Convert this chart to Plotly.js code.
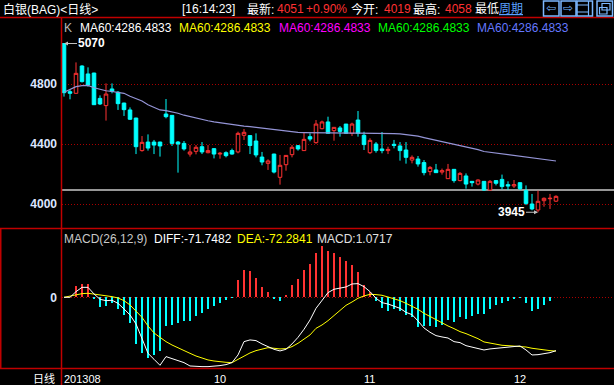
<!DOCTYPE html>
<html><head><meta charset="utf-8">
<script src="https://cdn.plot.ly/plotly-3.0.1.min.js"></script>
<style>html,body{margin:0;padding:0;background:#000;overflow:hidden}#chart{width:614px;height:385px}</style>
</head><body><div id="chart"></div>
<script>
// ---------------- data ----------------
const candleIdx = [0,1,2,3,4,5,6,7,8,9,10,11,12,13,14,15,16,17,18,19,20,21,22,23,24,25,26,27,28,29,30,31,32,33,34,35,36,37,38,39,40,41,42,43,44,45,46,47,48,49,50,51,52,53,54,55,56,57,58,59,60,61,62,63,64,65,66,67,68,69,70,71,72,73,74,75,76,77,78,79,80,81,82];
const openP  = [5070,4749,4738,4920,4867,4873,4704,4656,4767,4745,4673,4627,4573,4356,4413,4413,4413,4600,4591,4413,4404,4333,4351,4382,4342,4369,4333,4342,4356,4347,4458,4456,4420,4313,4271,4333,4178,4262,4329,4389,4356,4449,4409,4502,4547,4489,4507,4533,4471,4560,4458,4342,4400,4367,4356,4398,4387,4360,4293,4300,4276,4216,4227,4213,4169,4231,4156,4187,4151,4133,4151,4093,4156,4164,4129,4120,4142,4089,4000,3960,4022,4035,4019];
const highP  = [5070,4760,4944,4925,4911,4875,4724,4804,4804,4753,4675,4644,4575,4453,4464,4427,4415,4700,4593,4420,4420,4393,4393,4413,4393,4371,4347,4351,4369,4482,4500,4458,4471,4347,4298,4335,4327,4324,4393,4393,4476,4471,4560,4556,4582,4511,4520,4533,4542,4620,4482,4438,4413,4480,4382,4427,4413,4413,4324,4320,4293,4253,4267,4236,4267,4233,4213,4204,4153,4164,4153,4160,4160,4196,4151,4160,4144,4124,4067,4089,4044,4067,4058];
const lowP   = [4716,4698,4735,4810,4782,4660,4660,4556,4738,4627,4587,4560,4333,4349,4356,4333,4316,4571,4387,4209,4356,4316,4331,4333,4338,4304,4302,4311,4329,4338,4427,4333,4311,4258,4227,4204,4129,4222,4311,4356,4356,4418,4402,4498,4471,4422,4449,4467,4453,4449,4360,4333,4342,4338,4333,4371,4289,4269,4271,4249,4191,4191,4209,4196,4169,4142,4151,4102,4116,4124,4089,4091,4124,4098,4093,4107,4093,3993,3958,3945,3982,3967,4014];
const closeP = [4742,4738,4871,4816,4793,4662,4667,4733,4751,4669,4629,4565,4382,4411,4373,4393,4387,4582,4404,4400,4367,4347,4378,4347,4356,4333,4338,4322,4333,4471,4478,4390,4327,4280,4287,4213,4258,4324,4378,4367,4431,4433,4533,4547,4471,4511,4484,4471,4533,4471,4396,4424,4356,4356,4364,4391,4356,4311,4311,4267,4209,4244,4209,4222,4231,4156,4204,4133,4142,4160,4093,4151,4138,4116,4120,4129,4102,4004,3967,4018,4038,4038,4051];
const ma60   = [4745,4762,4782,4789,4791,4775,4764,4755,4750,4744,4738,4718,4702,4687,4662,4642,4627,4622,4615,4605,4592,4582,4572,4562,4555,4548,4542,4535,4528,4522,4519,4516,4511,4504,4498,4494,4488,4483,4479,4477,4476,4475,4475,4474,4474,4474,4473,4473,4473,4473,4473,4473,4473,4473,4471,4469,4467,4463,4459,4452,4443,4434,4425,4415,4407,4398,4393,4383,4373,4362,4350,4345,4340,4335,4330,4326,4321,4316,4311,4304,4297,4291,4286.4833];
const diff   = [0,0,7.6,13.4,13.4,4.5,-2.7,-4.5,-4.0,-8.1,-15.7,-23.7,-35.8,-55.1,-75.3,-83.3,-91.4,-79.7,-82.4,-85.1,-87.8,-92.3,-93.2,-93.2,-93.2,-92.7,-91.8,-90.5,-87.8,-77.5,-59.6,-57.3,-58.2,-62.7,-66.3,-69.9,-72.1,-69.9,-62.7,-53.8,-43.0,-30.5,-14.8,-3.6,6.3,10.8,12.5,13.9,17.9,18.4,14.3,7.6,-1.3,-7.2,-9.0,-11.6,-14.8,-20.2,-23.3,-31.8,-41.2,-47.0,-51.5,-53.3,-54.7,-59.6,-60.9,-65.0,-66.8,-69.0,-70.8,-69.4,-68.5,-67.7,-67.2,-66.3,-65.4,-70.8,-77.5,-77.1,-76.2,-74.4,-71.7482];
const dea    = [0,1.8,3.6,4.9,5.4,4.5,3.1,2.2,0.9,-0.9,-4.5,-10.3,-17.9,-26.9,-38.5,-47.9,-53.8,-59.6,-64.1,-68.1,-71.7,-75.3,-78.9,-81.5,-84.2,-85.6,-86.9,-87.4,-87.8,-83.3,-78.9,-74.8,-71.7,-69.4,-67.7,-68.5,-69.4,-69.0,-66.3,-61.8,-56.5,-50.6,-41.7,-37.2,-31.4,-24.2,-17.5,-10.8,-6.3,-1.3,1.8,4.0,3.6,2.7,0.4,-1.8,-4.5,-8.1,-11.6,-16.1,-21.5,-26.0,-30.5,-34.9,-38.5,-42.1,-46.1,-48.8,-52.0,-55.6,-60.0,-61.8,-63.2,-64.5,-65.0,-65.4,-65.4,-66.8,-68.5,-69.9,-70.8,-71.7,-72.2841];
const macdHist = [0,0,15.2,17.9,17.9,-2.7,-12.5,-11.2,-8.1,-15.2,-23.7,-34.9,-63.2,-74.4,-82,-77.5,-71.7,-38.5,-37.6,-34,-31.8,-31.8,-25.1,-21.5,-16.1,-11.6,-8.1,-3.6,-1,23.3,36.7,35.4,26.4,13.4,7.2,-2.7,-4.5,3.1,17,24.6,36.7,44.8,59.1,69,62.7,60,54.7,49.3,43.5,34.1,16.6,7.6,-4.5,-13.9,-17.9,-16.1,-17.9,-23.7,-26.9,-40.3,-38.5,-38.5,-39.4,-37.2,-30.5,-32.7,-26.9,-28.7,-25.1,-22.4,-22.4,-15.2,-10.3,-7.2,-4.5,-1.8,-0.5,-8.1,-17.9,-15.2,-9.9,-4.5,1.0717];
const monthIdx    = [0, 25, 50, 75];
const monthLabels = ['201308', '10', '11', '12'];
const priceTicks  = [4000, 4400, 4800];
const refPrice    = 4093;
const highMark = {idx: 0, value: 5070};
const lowMark  = {idx: 79, value: 3945};
const quote = {time: '16:14:23', last: 4051, change: '+0.90%', open: 4019, high: 4058};

// ---------------- layout helpers ----------------
const W = 614, H = 385;
const PX = x => x / W, PY = y => 1 - y / H;
const FONT = 'Liberation Sans, Arial, "Noto Sans CJK SC", sans-serif';
const RED = '#ff3232', CYAN = '#00ffff', FRAME = '#c00000';
function label(text, x, y, color, extra) {
  return Object.assign({xref: 'paper', yref: 'paper', x: PX(x), y: PY(y), xanchor: 'left', yanchor: 'middle',
    showarrow: false, text: text, borderpad: 0, font: {family: FONT, size: 12, color: color}}, extra || {});
}
const last = candleIdx.length - 1;

const traces = [
  {type: 'scatter', mode: 'lines', x: candleIdx, y: ma60, xaxis: 'x', yaxis: 'y',
   line: {color: '#9494d6', width: 1.2}, hoverinfo: 'skip'},
  {type: 'candlestick', x: candleIdx, open: openP, high: highP, low: lowP, close: closeP,
   xaxis: 'x', yaxis: 'y', whiskerwidth: 0, hoverinfo: 'skip',
   increasing: {line: {color: RED, width: 1}, fillcolor: '#000000'},
   decreasing: {line: {color: CYAN, width: 1}, fillcolor: CYAN}},
  {type: 'bar', x: candleIdx, y: macdHist, xaxis: 'x', yaxis: 'y2', width: 0.17,
   marker: {color: macdHist.map(v => v >= 0 ? RED : CYAN), line: {width: 0}}, hoverinfo: 'skip'},
  {type: 'scatter', mode: 'lines', x: candleIdx, y: dea, xaxis: 'x', yaxis: 'y2',
   line: {color: '#ffff00', width: 1}, hoverinfo: 'skip'},
  {type: 'scatter', mode: 'lines', x: candleIdx, y: diff, xaxis: 'x', yaxis: 'y2',
   line: {color: '#ffffff', width: 1}, hoverinfo: 'skip'}
];

const annotations = [
  // header
  label('白银(BAG)&lt;日线&gt;', 2, 9, '#ffffff'),
  label('[' + quote.time + ']', 181, 9, '#ffffff'),
  label('最新:', 246, 9, '#ffffff'),
  label(String(quote.last), 276, 9, RED),
  label(quote.change, 305, 9, RED),
  label('今开:', 350, 9, '#ffffff'),
  label(String(quote.open), 383, 9, RED),
  label('最高:', 412, 9, '#ffffff'),
  label(String(quote.high), 444, 9, RED),
  label('最低', 474, 9, '#ffffff'),
  label('<u>周期</u>', 498, 9, '#5aa0ff'),
  label('⇦', 545, 8.5, '#7cb8ff', {font: {family: 'DejaVu Sans', size: 12, color: '#7cb8ff'}}),
  label('⇨', 562, 8.5, '#7cb8ff', {font: {family: 'DejaVu Sans', size: 12, color: '#7cb8ff'}}),
  // MA legend
  label('K', 63, 28, '#b8b8b8'),
  label('MA60:' + ma60[last].toFixed(4), 79, 28, '#ffffff'),
  label('MA60:' + ma60[last].toFixed(4), 178, 28, '#ffff00'),
  label('MA60:' + ma60[last].toFixed(4), 277.5, 28, '#ff00ff'),
  label('MA60:' + ma60[last].toFixed(4), 376.5, 28, '#00ff00'),
  label('MA60:' + ma60[last].toFixed(4), 475.5, 28, '#6478ff'),
  // MACD legend
  label('MACD(26,12,9)', 63, 238.5, '#c8c8c8'),
  label('DIFF:' + diff[last].toFixed(4), 153, 238.5, '#ffffff'),
  label('DEA:' + dea[last].toFixed(4), 235.5, 238.5, '#ffff00'),
  label('MACD:' + macdHist[last].toFixed(4), 316, 238.5, '#e0e0e0'),
  // bottom-left
  label('日线', 56, 378, '#ffffff', {xanchor: 'right', font: {family: FONT, size: 11, color: '#ffffff'}}),
  // high / low marks
  {xref: 'x', yref: 'y', x: highMark.idx, y: highMark.value, text: '<b>' + highMark.value + '</b>',
   showarrow: true, ax: 13, ay: 0, xanchor: 'left', yanchor: 'middle', arrowhead: 2, arrowsize: 0.8, arrowwidth: 1,
   arrowcolor: '#c0c0c0', standoff: 0, startstandoff: 0, borderpad: 0,
   font: {family: FONT, size: 12, color: '#ffffff'}},
  {xref: 'x', yref: 'y', x: lowMark.idx, y: lowMark.value, text: '<b>' + lowMark.value + '</b>',
   showarrow: true, ax: -12, ay: 0, xanchor: 'right', yanchor: 'middle', arrowhead: 2, arrowsize: 0.8, arrowwidth: 1,
   arrowcolor: '#c0c0c0', standoff: 0, startstandoff: 0, borderpad: 0,
   font: {family: FONT, size: 12, color: '#ffffff'}}
];

function pline(x0, y0, x1, y1, color, w) {
  return {type: 'line', xref: 'paper', yref: 'paper', x0: PX(x0), y0: PY(y0), x1: PX(x1), y1: PY(y1),
          line: {color: color, width: w || 1}, layer: 'above'};
}
function prect(x0, y0, x1, y1, color, w) {
  return {type: 'rect', xref: 'paper', yref: 'paper', x0: PX(x0), y0: PY(y0), x1: PX(x1), y1: PY(y1),
          line: {color: color, width: w || 1}, fillcolor: 'rgba(0,0,0,0)', layer: 'above'};
}
const ICON = '#7cb8ff';
const shapes = [
  {type: 'line', xref: 'paper', yref: 'y', x0: PX(62), x1: 1, y0: refPrice, y1: refPrice,
   line: {color: '#c8c8c8', width: 1.5}, layer: 'below'},
  pline(0, 17.5, 614, 17.5, FRAME, 1.5),
  pline(61.5, 17.5, 61.5, 385, FRAME, 1.5),
  pline(0, 228.5, 614, 228.5, FRAME, 1.5),
  pline(0, 368.5, 614, 368.5, FRAME, 1.5),
  pline(0.75, 228.5, 0.75, 368.5, FRAME, 1.5),
  prect(543.5, 1, 559, 16, ICON, 1.5),
  prect(561, 1, 576, 16, ICON, 1.5),
  prect(577, 1, 592.5, 16, ICON, 1.5),
  pline(588.5, 1, 588.5, 16, ICON, 1.2),
  pline(577, 5, 588.5, 5, ICON, 1),
  pline(577, 12, 588.5, 12, ICON, 1),
  prect(597, 1, 612.5, 16, ICON, 1.5),
  prect(602, 3.5, 610, 10, ICON, 1.2),
  prect(599.5, 7.5, 607, 14, ICON, 1.2)
];

const layout = {
  width: W, height: H, margin: {l: 0, r: 0, t: 0, b: 0, pad: 0},
  paper_bgcolor: '#000000', plot_bgcolor: '#000000', showlegend: false,
  boxgap: 0.15, bargap: 0, hovermode: false,
  font: {family: FONT, color: '#ffffff', size: 12},
  xaxis: {domain: [PX(62), 1], range: [-1/3, 91 + 2/3], anchor: 'y2', showgrid: false, zeroline: false,
          showline: false, ticks: '', tickvals: monthIdx, ticktext: monthLabels,
          ticklabelposition: 'outside right', ticklabelstandoff: 2,
          tickfont: {family: FONT, size: 11, color: '#ffffff'}, rangeslider: {visible: false}, fixedrange: true},
  yaxis: {domain: [PY(228.5), PY(17.5)], range: [3836.7, 5243.3], tickvals: priceTicks,
          showgrid: true, gridcolor: '#a80000', griddash: '1px,2px', gridwidth: 1, zeroline: false, showline: false,
          ticks: '', ticklabelstandoff: 4, tickfont: {family: FONT, size: 12, color: '#dce6ff', weight: 'bold'}, fixedrange: true},
  yaxis2: {domain: [PY(368.5), PY(229)], range: [-95.7, 91.8], tickvals: [0],
           showgrid: true, gridcolor: '#a80000', griddash: '1px,2px', gridwidth: 1, zeroline: false, showline: false,
           ticks: '', ticklabelstandoff: 4, tickfont: {family: FONT, size: 12, color: '#dce6ff', weight: 'bold'}, fixedrange: true},
  annotations: annotations,
  shapes: shapes
};

Plotly.newPlot('chart', traces, layout, {staticPlot: true, displayModeBar: false});
</script>
</body></html>
